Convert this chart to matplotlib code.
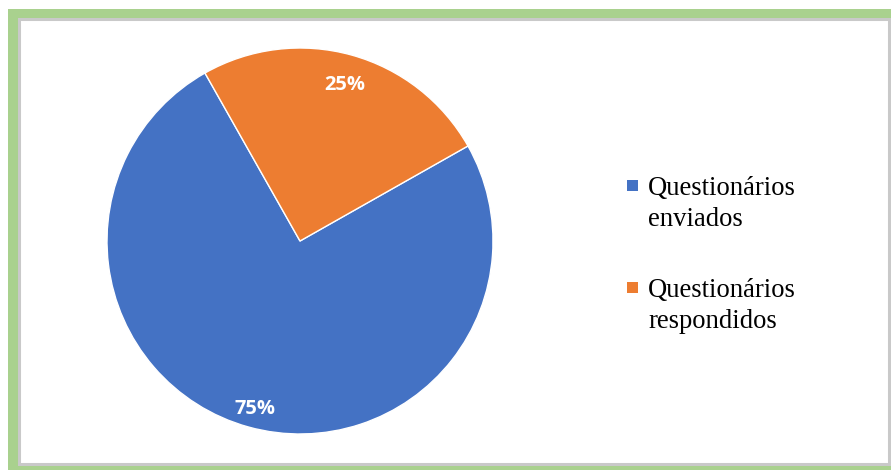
import matplotlib

matplotlib.use("Agg")
import matplotlib.pyplot as plt
from matplotlib.patches import Rectangle
from matplotlib.transforms import ScaledTranslation

labels = ["Questionários\nenviados", "Questionários\nrespondidos"]
shares = [75, 25]
colors = ["#4472C4", "#ED7D31"]

W, H = 891, 470
fig = plt.figure(figsize=(W / 100, H / 100), dpi=100)

# background: green frame with a thin grey inner edge, in pixel coords
bg = fig.add_axes([0, 0, 1, 1], zorder=-1)
bg.set_xlim(0, W)
bg.set_ylim(H, 0)
bg.axis("off")
bg.add_patch(Rectangle((8, 9), W, H, facecolor="#A9D18E", edgecolor="none"))
bg.add_patch(Rectangle((19, 19), 870, 445, facecolor="white",
                       edgecolor="#C9C9C9", linewidth=2.2))

cx, cy, r = 300, 241, 193
ax = fig.add_axes([(cx - r) / W, (H - cy - r) / H, 2 * r / W, 2 * r / H])
wedges, _, autotexts = ax.pie(
    shares,
    colors=colors,
    startangle=29.5,
    counterclock=False,
    autopct="%d%%",
    pctdistance=0.87,
    wedgeprops=dict(edgecolor="white", linewidth=1.0),
    textprops=dict(color="white", fontsize=14.5, fontweight="bold", family="Open Sans"),
)
# nudge the percent labels down a few pixels
for t in autotexts:
    t.set_transform(ax.transData + ScaledTranslation(0, -0.06, fig.dpi_scale_trans))
ax.set_xlim(-1, 1)
ax.set_ylim(-1, 1)
ax.set_aspect("equal")

# legend: square marker next to the first line of each two-line label
for i, (label, color) in enumerate(zip(labels, colors)):
    base = 196 + i * 102
    bg.add_patch(Rectangle((627, base - 16), 11, 11, facecolor=color, edgecolor="none"))
    bg.text(648, base + 30, label, family="Liberation Serif", fontsize=19.2,
            va="baseline", ha="left", linespacing=1.33, color="black")

fig.savefig("out.png", dpi=100)
